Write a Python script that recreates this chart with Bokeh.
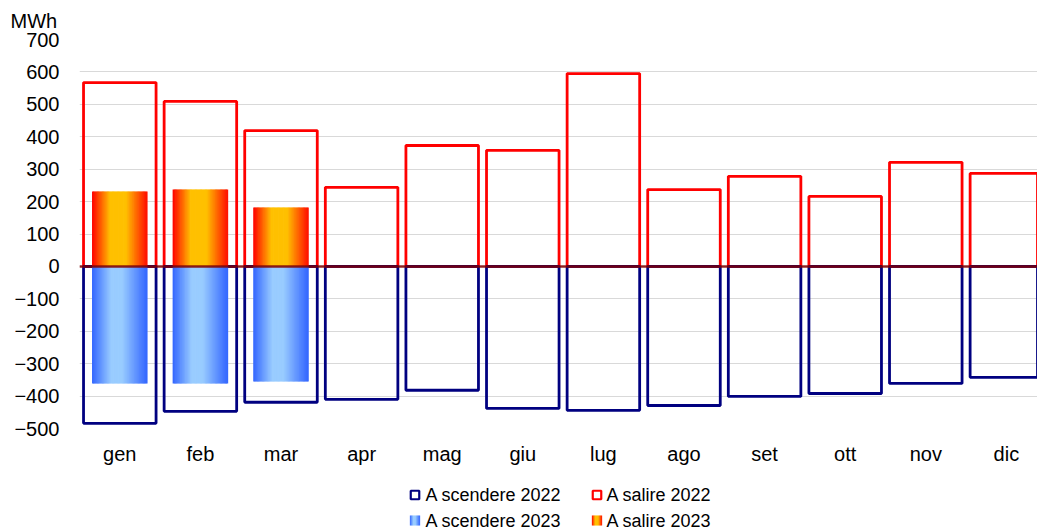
from bokeh.plotting import figure
from bokeh.models import ColumnDataSource, Range1d, FixedTicker, Span
from bokeh.layouts import column
from bokeh.embed import file_html
from bokeh.resources import INLINE

# Monthly balancing energy (MWh)
months = ["gen", "feb", "mar", "apr", "mag", "giu", "lug", "ago", "set", "ott", "nov", "dic"]
up_2022 = [567, 509, 419, 244, 373, 358, 595, 237, 278, 216, 321, 287]
down_2022 = [-484, -447, -419, -410, -382, -438, -444, -429, -401, -392, -361, -342]
up_2023 = [231, 237, 182]
down_2023 = [-361, -361, -355]
series_names = ["A scendere 2022", "A salire 2022", "A scendere 2023", "A salire 2023"]
y_ticks = [-500, -400, -300, -200, -100, 0, 100, 200, 300, 400, 500, 600, 700]

FONT = "Liberation Sans"
RED = "#FF0000"
NAVY = "#000080"


def lerp_hex(c1, c2, t):
    a = [int(c1[i:i + 2], 16) for i in (1, 3, 5)]
    b = [int(c2[i:i + 2], 16) for i in (1, 3, 5)]
    return "#%02x%02x%02x" % tuple(int(round(a[k] + (b[k] - a[k]) * t)) for k in range(3))


def gradient(stops, t):
    for (p0, c0), (p1, c1) in zip(stops, stops[1:]):
        if p0 <= t <= p1:
            return lerp_hex(c0, c1, (t - p0) / (p1 - p0) if p1 > p0 else 0)
    return stops[-1][1]


warm_stops = [(0.0, "#FF0000"), (0.33, "#FFC000"), (0.62, "#FFC000"), (1.0, "#FF1000")]
cool_stops = [(0.0, "#3366FF"), (0.35, "#99CCFF"), (0.55, "#99CCFF"), (1.0, "#3366FF")]

x_idx = list(range(len(months)))

p = figure(width=1037, height=478, output_backend="svg", toolbar_location=None,
           x_range=Range1d(-0.5, 11.386), y_range=Range1d(-500, 700),
           min_border_left=79, min_border_right=0, min_border_top=39, min_border_bottom=50)
p.outline_line_color = None
p.background_fill_color = "white"
p.border_fill_color = "white"

# unit label above the value axis
p.title.text = "MWh"
p.title.align = "left"
p.title.offset = -69
p.title.text_font = FONT
p.title.text_font_size = "20px"
p.title.text_font_style = "normal"
p.title.text_color = "black"
p.title.standoff = 15

# 2022 hollow bars
src22 = ColumnDataSource(dict(x=x_idx, up=up_2022, down=down_2022))
p.vbar(x="x", top="up", bottom=0, width=0.9, source=src22,
       fill_color=None, line_color=RED, line_width=2.8)
p.vbar(x="x", top=0, bottom="down", width=0.9, source=src22,
       fill_color=None, line_color=NAVY, line_width=2.8)

# 2023 bars with a horizontal colour gradient, drawn as thin vertical strips
N = 44
bar_w = 0.68
strip = bar_w / N
xs, ups, downs, warm, cool = [], [], [], [], []
for i in range(len(up_2023)):
    for k in range(N):
        t = (k + 0.5) / N
        xs.append(x_idx[i] - bar_w / 2 + strip * (k + 0.5))
        ups.append(up_2023[i])
        downs.append(down_2023[i])
        warm.append(gradient(warm_stops, t))
        cool.append(gradient(cool_stops, t))
src23 = ColumnDataSource(dict(x=xs, up=ups, down=downs, warm=warm, cool=cool))
p.vbar(x="x", top="up", bottom=0, width=strip * 1.6, source=src23,
       fill_color="warm", line_color=None)
p.vbar(x="x", top=0, bottom="down", width=strip * 1.6, source=src23,
       fill_color="cool", line_color=None)

p.add_layout(Span(location=0, dimension="width", line_color="#800000",
                  line_width=2.5, line_alpha=0.85))

# axes
p.yaxis.ticker = FixedTicker(ticks=y_ticks)
p.yaxis.axis_line_color = None
p.yaxis.major_tick_line_color = None
p.yaxis.minor_tick_line_color = None
p.yaxis.major_label_standoff = 14
p.yaxis.major_label_text_font = FONT
p.yaxis.major_label_text_font_size = "20px"
p.yaxis.major_label_text_color = "black"

p.xaxis.ticker = FixedTicker(ticks=x_idx)
p.xaxis.major_label_overrides = {i: m for i, m in enumerate(months)}
p.xaxis.axis_line_color = None
p.xaxis.major_tick_line_color = None
p.xaxis.minor_tick_line_color = None
p.xaxis.major_label_standoff = 8
p.xaxis.major_label_text_font = FONT
p.xaxis.major_label_text_font_size = "20px"
p.xaxis.major_label_text_color = "black"

p.xgrid.grid_line_color = None
p.ygrid.ticker = FixedTicker(ticks=y_ticks)
p.ygrid.grid_line_color = "#d9d9d9"
p.ygrid.grid_line_width = 1.2

# legend panel (frame aligned with the chart above; y measured downward in window pixels)
lg = figure(width=1037, height=53, output_backend="svg", toolbar_location=None,
            x_range=Range1d(79, 1037), y_range=Range1d(531, 478),
            min_border=0)
lg.axis.visible = False
lg.grid.visible = False
lg.outline_line_color = None

row_y = [494.5, 520.0]
col_x = [414.5, 596.5]
text_x = [425, 606]
box = 8.5

# hollow markers for 2022
lg.rect(x=[col_x[0], col_x[1]], y=[row_y[0], row_y[0]], width=box, height=box,
        fill_color=None, line_color=[NAVY, RED], line_width=2.2)

# gradient markers for 2023
M = 10
mx, my, mc = [], [], []
for j, stops in enumerate([cool_stops, warm_stops]):
    for k in range(M):
        t = (k + 0.5) / M
        mx.append(col_x[j] - 5 + 10 / M * (k + 0.5))
        my.append(row_y[1])
        mc.append(gradient(stops, t))
lg.rect(x=mx, y=my, width=10 / M * 1.3, height=10, fill_color=mc, line_color=None)

lg.text(x=[text_x[0], text_x[1], text_x[0], text_x[1]],
        y=[row_y[0], row_y[0], row_y[1], row_y[1]],
        text=series_names, text_font={"value": FONT}, text_font_size="18px",
        text_baseline="middle", text_align="left", text_color="black")

layout = column(p, lg, spacing=0)
open("out.html", "w").write(file_html(layout, INLINE))
